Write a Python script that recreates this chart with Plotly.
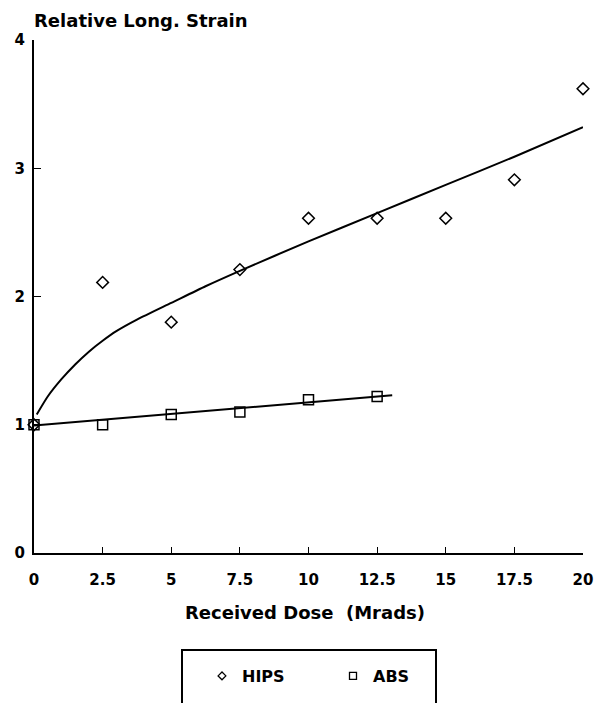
import plotly.graph_objects as go

# Measured points
dose = [0, 2.5, 5, 7.5, 10, 12.5, 15, 17.5, 20]
hips = [1.0, 2.11, 1.80, 2.21, 2.61, 2.61, 2.61, 2.91, 3.62]
abs_dose = [0, 2.5, 5, 7.5, 10, 12.5]
abs_vals = [1.0, 1.0, 1.08, 1.10, 1.195, 1.22]

# Fitted curves
hips_fit_x = [0.1, 0.5, 1.0, 1.5, 2.0, 2.5, 3.0, 3.75, 5.0, 6.25, 7.5, 10, 12.5, 15, 17.5, 20]
hips_fit_y = [1.08, 1.22, 1.355, 1.47, 1.57, 1.655, 1.73, 1.82, 1.95, 2.08, 2.20, 2.43, 2.65, 2.87, 3.09, 3.32]
abs_fit_x = [0, 13.05]
abs_fit_y = [0.995, 1.23]

x_ticks = [0, 2.5, 5, 7.5, 10, 12.5, 15, 17.5, 20]
x_tick_text = ["0", "2.5", "5", "7.5", "10", "12.5", "15", "17.5", "20"]
y_ticks = [0, 1, 2, 3, 4]

FONT = "DejaVu Sans"

fig = go.Figure()
fig.add_trace(go.Scatter(x=hips_fit_x, y=hips_fit_y, mode="lines",
                         line=dict(color="black", width=2, shape="spline", smoothing=0.6),
                         showlegend=False, hoverinfo="skip"))
fig.add_trace(go.Scatter(x=abs_fit_x, y=abs_fit_y, mode="lines",
                         line=dict(color="black", width=2),
                         showlegend=False, hoverinfo="skip"))
fig.add_trace(go.Scatter(x=dose, y=hips, mode="markers", name="HIPS",
                         marker=dict(symbol="diamond-open", size=9, color="black",
                                     line=dict(width=1.5)),
                         cliponaxis=False, showlegend=False))
fig.add_trace(go.Scatter(x=abs_dose, y=abs_vals, mode="markers", name="ABS",
                         marker=dict(symbol="square-open", size=10, color="black",
                                     line=dict(width=1.5)),
                         cliponaxis=False, showlegend=False))
# legend entries with smaller symbols
fig.add_trace(go.Scatter(x=[None], y=[None], mode="markers", name="HIPS",
                         marker=dict(symbol="diamond-open", size=6, color="black",
                                     line=dict(width=1.3))))
fig.add_trace(go.Scatter(x=[None], y=[None], mode="markers", name="ABS",
                         marker=dict(symbol="square-open", size=7, color="black",
                                     line=dict(width=1.3))))

fig.update_layout(
    width=598, height=703,
    margin=dict(l=34, r=15, t=40, b=150, autoexpand=False),
    paper_bgcolor="white", plot_bgcolor="white",
    font=dict(family=FONT, size=15, color="black", weight="bold"),
    xaxis=dict(range=[0, 20], tickvals=x_ticks, ticktext=x_tick_text,
               showgrid=False, zeroline=False, showline=True, automargin=False,
               linecolor="black", linewidth=2, ticks="inside", ticklen=6,
               tickwidth=1.2, tickcolor="black", ticklabelstandoff=12,
               tickfont=dict(family=FONT, size=15, weight="bold")),
    yaxis=dict(range=[0, 4], tickvals=y_ticks,
               showgrid=False, zeroline=False, showline=True, automargin=False,
               linecolor="black", linewidth=2, ticks="inside", ticklen=7,
               tickwidth=1.2, tickcolor="black", ticklabelstandoff=4,
               tickfont=dict(family=FONT, size=15, weight="bold")),
    showlegend=True,
    legend=dict(orientation="h", x=(202 - 34) / 549, xanchor="left",
                y=(553 - 676) / 513, yanchor="middle",
                font=dict(family=FONT, size=16, weight="bold"),
                bgcolor="rgba(0,0,0,0)", borderwidth=0,
                entrywidth=86, entrywidthmode="pixels"),
    annotations=[
        dict(text="Relative Long. Strain", xref="paper", yref="paper",
             x=(32 - 34) / 549, y=(553 - 20.5) / 513, xanchor="left", yanchor="middle",
             showarrow=False, font=dict(family=FONT, size=18, weight="bold")),
        dict(text="Received Dose  (Mrads)", xref="paper", yref="paper",
             x=(305 - 34) / 549, y=(553 - 612) / 513, xanchor="center", yanchor="middle",
             showarrow=False, font=dict(family=FONT, size=18, weight="bold")),
    ],
    shapes=[
        dict(type="rect", xref="paper", yref="paper",
             x0=(182 - 34) / 549, x1=(436 - 34) / 549,
             y0=(553 - 650) / 513, y1=(553 - 712) / 513,
             line=dict(color="black", width=2)),
    ],
)

fig.write_html("out.html", config={"displayModeBar": False},
               post_script="document.body.style.margin='0';document.body.style.overflow='hidden';")
